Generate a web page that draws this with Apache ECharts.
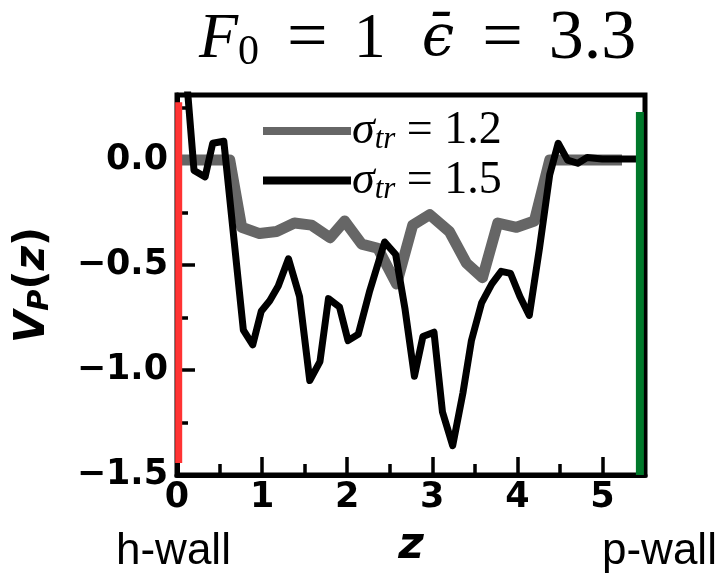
<!DOCTYPE html>
<html>
<head>
    <meta charset="UTF-8">
    <title>V_P(z)</title>
    <script type="text/javascript" src="https://cdn.jsdelivr.net/npm/echarts@6/dist/echarts.min.js"></script>
    <style type="text/css">
        html, body { margin: 0; padding: 0; background: #fff; }
        #chart { width: 728px; height: 579px; }
    </style>
</head>
<body>
<div id="chart"></div>
<script type="text/javascript">
    // sigma_tr = 1.2 (grey)
    var zGray = [0.05, 0.20, 0.35, 0.50, 0.62, 0.76, 0.97, 1.17, 1.38, 1.58, 1.80, 1.97, 2.17, 2.36,
                 2.58, 2.77, 2.97, 3.20, 3.40, 3.59, 3.77, 3.99, 4.20, 4.38, 4.60, 4.80, 5.00, 5.23];
    var vGray = [0, 0, 0, 0, 0, -0.32, -0.35, -0.34, -0.30, -0.31, -0.37, -0.29, -0.40, -0.42,
                 -0.59, -0.31, -0.26, -0.34, -0.49, -0.56, -0.30, -0.32, -0.29, 0.0, 0, 0, 0, 0];

    // sigma_tr = 1.5 (black)
    var zBlack = [0.07, 0.20, 0.33, 0.42, 0.55, 0.78, 0.89, 0.99, 1.09, 1.19, 1.31, 1.44, 1.56, 1.68,
                  1.78, 1.91, 2.01, 2.13, 2.26, 2.44, 2.57, 2.68, 2.79, 2.89, 3.02, 3.12, 3.24, 3.36,
                  3.46, 3.58, 3.70, 3.81, 3.92, 4.03, 4.14, 4.26, 4.38, 4.48, 4.59, 4.71, 4.82, 5.00,
                  5.20, 5.40];
    var vBlack = [0.60, -0.05, -0.08, 0.08, 0.09, -0.81, -0.88, -0.72, -0.67, -0.60, -0.47, -0.65, -1.05, -0.96,
                  -0.66, -0.70, -0.86, -0.83, -0.63, -0.39, -0.45, -0.71, -1.03, -0.84, -0.82, -1.20, -1.36, -1.11,
                  -0.86, -0.68, -0.59, -0.53, -0.54, -0.65, -0.74, -0.42, -0.07, 0.08, 0.0, -0.015, 0.012, 0.005,
                  0.005, 0.005];

    // walls
    var hWallZ = [0.02, 0.02];
    var hWallV = [0.276, -1.443];
    var pWallZ = [5.44, 5.44];
    var pWallV = [0.229, -1.5];

    var xTicks = [0, 1, 2, 3, 4, 5];
    var yTicks = [-1.5, -1.0, -0.5, 0.0];

    function pairs(xs, ys) {
        return xs.map(function (x, i) { return [x, ys[i]]; });
    }

    var serif = 'Liberation Serif';
    var sans = 'DejaVu Sans';
    var name12 = 'sigma12';
    var name15 = 'sigma15';

    function tok(extra) {
        var s = {fontFamily: serif, fontSize: 64, fontWeight: 'normal', color: '#000'};
        for (var k in extra) s[k] = extra[k];
        return s;
    }

    var chart = echarts.init(document.getElementById('chart'));
    chart.setOption({
        animation: false,
        title: {
            text: '{f|F}{sub|0}{eq1|=}{one|1}{e|ϵ\u0304}{eq2|=}{num|3.3}',
            left: 199,
            top: 4,
            padding: 0,
            textStyle: {
                fontWeight: 'normal',
                rich: {
                    f: tok({fontStyle: 'italic'}),
                    sub: tok({fontSize: 42, padding: [26, 0, 0, 0]}),
                    eq1: tok({fontSize: 72, padding: [0, 0, 0, 28]}),
                    one: tok({padding: [0, 0, 0, 26]}),
                    e: tok({fontFamily: 'DejaVu Serif', fontStyle: 'italic', fontSize: 58, padding: [0, 0, 0, 36]}),
                    eq2: tok({fontSize: 72, padding: [0, 0, 0, 28]}),
                    num: tok({fontSize: 70, padding: [0, 0, 0, 26]})
                }
            }
        },
        legend: {
            data: [name12, name15],
            orient: 'vertical',
            left: 263,
            top: 108,
            icon: 'rect',
            itemWidth: 88,
            itemHeight: 8,
            itemGap: 2,
            padding: 0,
            formatter: function (name) {
                return '{s|σ}{sub|tr}{n| = ' + (name === name12 ? '1.2' : '1.5') + '}';
            },
            textStyle: {
                padding: [0, 0, 0, -4],
                rich: {
                    s: {fontFamily: serif, fontStyle: 'italic', fontSize: 46, color: '#000'},
                    sub: {fontFamily: serif, fontStyle: 'italic', fontSize: 31, color: '#000', padding: [18, 0, 0, 0]},
                    n: {fontFamily: serif, fontSize: 46, color: '#000'}
                }
            }
        },
        grid: {
            left: 177, right: 83, top: 95, bottom: 104,
            show: true, borderColor: '#000', borderWidth: 5, backgroundColor: '#fff'
        },
        xAxis: {
            type: 'value',
            min: 0, max: 5.5, interval: 1,
            name: 'z',
            nameLocation: 'middle',
            nameGap: 50,
            nameTextStyle: {fontFamily: sans, fontWeight: 'bold', fontStyle: 'italic', fontSize: 44, color: '#000'},
            axisLine: {show: true, onZero: false, lineStyle: {color: '#000', width: 5}},
            axisTick: {show: true, inside: true, length: 18, lineStyle: {color: '#000', width: 3.5}},
            minorTick: {show: true, splitNumber: 2, length: 11, lineStyle: {color: '#000', width: 3.5}},
            splitLine: {show: false},
            axisLabel: {
                margin: 5, showMaxLabel: false,
                fontFamily: sans, fontWeight: 'bold', fontSize: 35, color: '#000',
                formatter: function (v) { return xTicks.indexOf(v) >= 0 ? String(v) : ''; }
            }
        },
        yAxis: {
            type: 'value',
            min: -1.5, max: 0.31, interval: 0.5,
            name: '{v|V}{p|P}{b|(}{v|z}{b|)}',
            nameLocation: 'middle',
            nameRotate: 90,
            nameGap: 122,
            nameTextStyle: {
                rich: {
                    v: {fontFamily: sans, fontWeight: 'bold', fontStyle: 'italic', fontSize: 42, color: '#000'},
                    p: {fontFamily: sans, fontWeight: 'bold', fontStyle: 'italic', fontSize: 29, color: '#000', padding: [14, 0, 0, 0]},
                    b: {fontFamily: sans, fontWeight: 'bold', fontSize: 42, color: '#000'}
                }
            },
            axisLine: {show: true, onZero: false, lineStyle: {color: '#000', width: 5}},
            axisTick: {show: true, inside: true, length: 18, lineStyle: {color: '#000', width: 3.5}},
            minorTick: {show: true, splitNumber: 2, length: 11, lineStyle: {color: '#000', width: 3.5}},
            splitLine: {show: false},
            axisLabel: {
                margin: 9, showMaxLabel: false,
                fontFamily: sans, fontWeight: 'bold', fontSize: 35, color: '#000',
                formatter: function (v) {
                    var t = yTicks.filter(function (k) { return Math.abs(k - v) < 1e-6; });
                    if (!t.length) return '';
                    return (v < 0 ? '\u2212' : '') + Math.abs(v).toFixed(1);
                }
            }
        },
        graphic: [
            {type: 'text', left: 116, top: 530,
             style: {text: 'h-wall', fontFamily: 'Liberation Sans', fontSize: 44, fill: '#000'}},
            {type: 'text', left: 602, top: 530,
             style: {text: 'p-wall', fontFamily: 'Liberation Sans', fontSize: 44, fill: '#000'}}
        ],
        series: [
            {
                name: 'hwall', type: 'line', data: pairs(hWallZ, hWallV), symbol: 'none', silent: true,
                lineStyle: {color: '#ff3333', width: 7}, clip: false, z: 4
            },
            {
                name: 'pwall', type: 'line', data: pairs(pWallZ, pWallV), symbol: 'none', silent: true,
                lineStyle: {color: '#00782a', width: 8}, clip: false, z: 4
            },
            {
                name: name12, type: 'line', data: pairs(zGray, vGray), symbol: 'none',
                itemStyle: {color: '#666666'},
                lineStyle: {color: '#666666', width: 11, join: 'round'}, z: 2
            },
            {
                name: name15, type: 'line', data: pairs(zBlack, vBlack), symbol: 'none',
                itemStyle: {color: '#000'},
                lineStyle: {color: '#000', width: 7, join: 'round'}, z: 3
            }
        ]
    });
</script>
</body>
</html>
